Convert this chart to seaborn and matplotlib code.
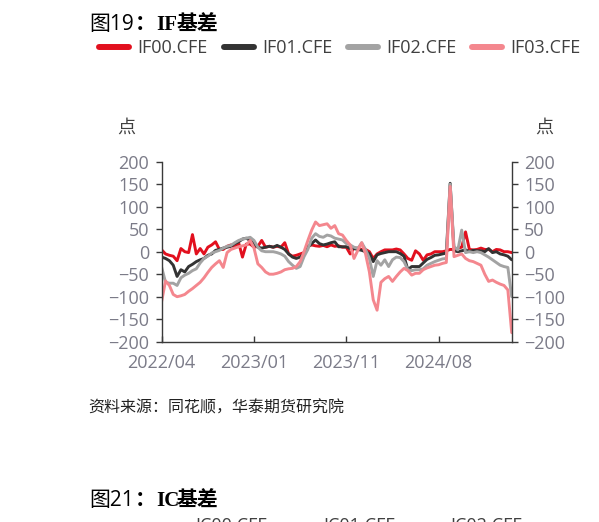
import numpy as np
import pandas as pd
import matplotlib
matplotlib.use('Agg')
import matplotlib.pyplot as plt
import seaborn as sns

# ---------------- data ----------------
series_names = ['IF00.CFE', 'IF01.CFE', 'IF02.CFE', 'IF03.CFE']

if00 = [4, -5, -8, -10, -20, 7, 0, -2, 38, -5,
        7, -5, 10, 15, 22, 5, 5, 12, 15, 10,
        20, -12, 17, 17, 10, 12, 25, 10, 12, 10,
        12, 10, 20, -5, -10, -8, -5, -2, 12, 15,
        13, 12, 14, 11, 15, 12, 13, 10, 10, -5,
        8, 8, 5, 5, 0, -15, -5, 0, 4, 4,
        4, 6, 4, -5, -15, -19, 2, -5, -19, -7,
        -5, 0, 0, 0, 2, 5, 5, 8, 10, 44,
        5, 4, 5, 8, 5, 5, 0, 5, 4, 0,
        0, -2]

if01 = [-12, -15, -20, -30, -55, -40, -45, -33, -28, -22,
        -18, -15, -8, -5, 3, 5, 8, 10, 12, 18,
        22, 28, 30, 25, 18, 10, 8, 10, 12, 10,
        14, 10, 5, -5, -12, -15, -12, -5, 10, 18,
        26, 18, 15, 17, 20, 22, 11, 11, 11, 7,
        7, 5, 3, 0, -4, -22, -7, -4, -2, 0,
        0, 0, -4, -10, -40, -33, -33, -33, -25, -17,
        -13, -8, -7, -5, -3, 152, 2, 0, 2, 4,
        0, 3, 2, 2, 0, 7, -2, 0, -5, -7,
        -10, -18]

if02 = [-35, -68, -70, -70, -75, -58, -52, -48, -42, -38,
        -25, -15, -10, -3, 0, 3, 8, 12, 14, 20,
        25, 28, 30, 32, 25, 10, 2, 0, 0, 0,
        -2, -5, -10, -22, -30, -37, -33, -11, 5, 30,
        40, 34, 32, 37, 35, 30, 28, 26, 18, 15,
        10, 7, 20, 5, -15, -55, -20, -30, -18, -33,
        -18, -12, -13, -22, -40, -42, -40, -40, -38, -30,
        -26, -22, -19, -16, -15, 150, 11, 4, 48, -2,
        0, -2, 0, -2, -7, -12, -18, -24, -30, -33,
        -35, -100]

if03 = [-110, -65, -75, -95, -100, -98, -95, -88, -82, -75,
        -68, -58, -46, -35, -27, -20, -35, -2, 5, 8,
        11, 13, 15, 25, 8, -27, -35, -45, -50, -50,
        -48, -45, -40, -38, -37, -33, -22, 0, 25, 48,
        66, 58, 60, 62, 52, 58, 40, 37, 25, 15,
        -15, 3, 20, -5, -45, -107, -130, -68, -60, -55,
        -66, -55, -45, -37, -42, -52, -48, -48, -40, -36,
        -33, -30, -29, -26, -24, 145, -11, -8, -5, -15,
        -20, -22, -26, -30, -50, -66, -63, -68, -72, -75,
        -85, -180]

x_tick_pos = [0, 24, 48, 72]
x_tick_labels = ['2022/04', '2023/01', '2023/11', '2024/08']
y_ticks = [-200, -150, -100, -50, 0, 50, 100, 150, 200]

colors = {'IF00.CFE': '#E2101E', 'IF01.CFE': '#333333',
          'IF02.CFE': '#A3A3A3', 'IF03.CFE': '#F4878E'}

# ---------------- figure ----------------
sns.set_style('ticks')
plt.rcParams['font.family'] = ['Open Sans', 'Noto Sans CJK SC', 'DejaVu Sans']

W, H = 599, 522
fig = plt.figure(figsize=(W / 100, H / 100), dpi=100)
ax = fig.add_axes([161.7 / W, 1 - 341.7 / H, 350 / W, 180 / H])

df = pd.DataFrame({'idx': np.arange(len(if00)),
                   'IF00.CFE': if00, 'IF01.CFE': if01,
                   'IF02.CFE': if02, 'IF03.CFE': if03})
long = df.melt(id_vars='idx', var_name='series', value_name='val')
sns.lineplot(data=long, x='idx', y='val', hue='series', hue_order=series_names,
             palette=colors, linewidth=2.1, estimator=None, ax=ax, legend=True)

handles, labels = ax.get_legend_handles_labels()
ax.get_legend().remove()
for h in handles:
    h.set_linewidth(4.3)

ax.set_xlim(0, len(if00) - 1)
ax.set_ylim(-200, 200)
ax.set_yticks(y_ticks)
ax.set_xticks(x_tick_pos)
ax.set_xticklabels(x_tick_labels)
ax.set_xlabel('')
ax.set_ylabel('')

spine_c = '#3a3a3a'
tick_c = '#7b7b88'
ax.spines['top'].set_visible(False)
for s in ['left', 'right', 'bottom']:
    ax.spines[s].set_color(spine_c)
    ax.spines[s].set_linewidth(1.0)
ax.tick_params(axis='y', which='both', left=True, right=True, labelleft=True,
               labelright=True, direction='out', length=4.5, width=1.0,
               color=spine_c, labelsize=13, labelcolor=tick_c, pad=4.5)
ax.tick_params(axis='x', direction='in', length=4.5, width=1.0, color=spine_c,
               labelsize=13, labelcolor=tick_c, pad=9)

# legend
fig.legend(handles, labels, loc='center left',
           bbox_to_anchor=(99.3 / W, 1 - 48.3 / H), ncol=4, frameon=False,
           fontsize=13, handlelength=1.66, handletextpad=0.46,
           columnspacing=0.87, borderpad=0, borderaxespad=0,
           labelcolor='#404040')

# unit labels
fig.text(126.7 / W, 1 - 127.5 / H, '点', fontsize=13, color='#404040',
         ha='center', va='center')
fig.text(544 / W, 1 - 127.5 / H, '点', fontsize=13, color='#404040',
         ha='center', va='center')

# title pieces
def title(y_base, num, code):
    fig.text(89 / W, 1 - y_base / H, '图' + num, fontsize=15, color='black',
             va='baseline', ha='left')
    fig.text(135 / W, 1 - y_base / H, '：', fontsize=15, fontweight='bold',
             color='black', va='baseline', ha='left')
    fig.text(156 / W, 1 - y_base / H, code, fontsize=15, fontweight='bold',
             family=['Liberation Serif'], color='black', va='baseline', ha='left')
    fig.text(177 / W, 1 - y_base / H, '基差', fontsize=15, fontweight='bold',
             family=['Noto Sans CJK SC'], color='black', va='baseline', ha='left')

title(30.5, '19', 'IF')
title(506.5, '21', 'IC')

# source
fig.text(88.3 / W, 1 - 409 / H, '资料来源：同花顺，华泰期货研究院', fontsize=11.5,
         color='#222222', va='center', ha='left', style='italic')

# next chart legend (cut by the bottom edge, as in the reference)
for xx, t in [(195, 'IC00.CFE'), (323, 'IC01.CFE'), (450, 'IC02.CFE')]:
    fig.text(xx / W, 1 - 531 / H, t, fontsize=13, color='#404040',
             va='baseline', ha='left')

fig.savefig('out.png', dpi=100)
